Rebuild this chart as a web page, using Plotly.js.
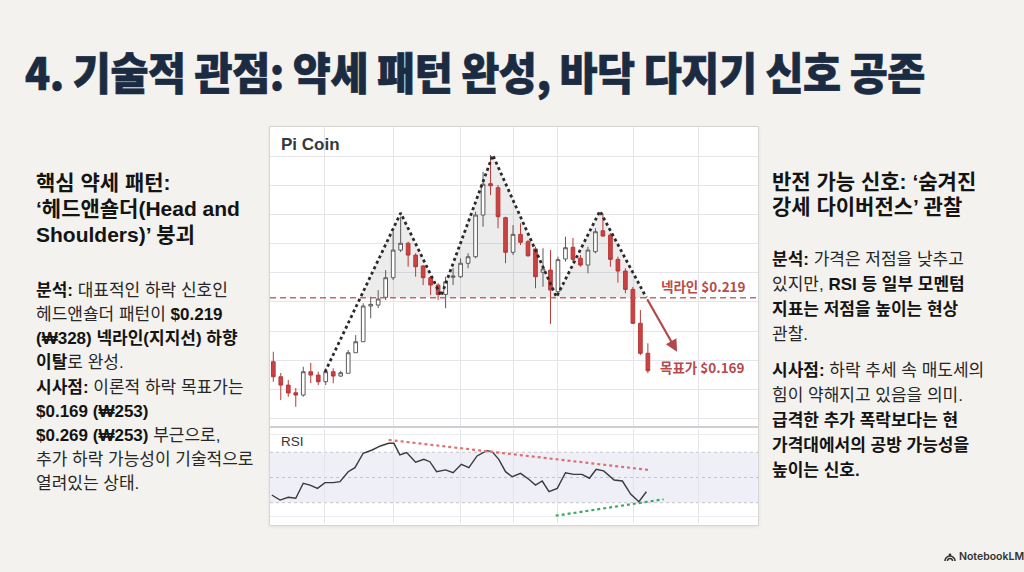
<!DOCTYPE html>
<html><head><meta charset="utf-8">
<script src="https://cdn.plot.ly/plotly-3.0.1.min.js"></script>
<style>
html,body{margin:0;padding:0;}
body{width:1024px;height:572px;background:#f3f2ee;position:relative;overflow:hidden;font-family:"Liberation Sans","Noto Sans CJK KR",sans-serif;color:#1a1a1a;}
#title{position:absolute;left:25px;top:49px;font-family:"Noto Sans CJK KR","Noto Sans",sans-serif;font-size:44px;line-height:44px;font-weight:900;color:#1b2b42;white-space:nowrap;transform-origin:left top;letter-spacing:-0.5px;-webkit-text-stroke:0.7px #1b2b42;}
.blk{position:absolute;white-space:nowrap;}
.h{font-size:21px;font-weight:700;color:#141414;}
.p{font-size:17px;font-weight:400;color:#272727;}
.p b{font-weight:700;color:#141414;}
#card{position:absolute;left:269px;top:126px;width:488px;height:398px;border:1px solid #d6d6d6;background:#fff;box-shadow:0 1px 3px rgba(0,0,0,0.07);}
#wm{position:absolute;left:944px;top:550px;font-family:"Inter","Noto Sans",sans-serif;font-size:10.5px;font-weight:600;color:#333;display:flex;align-items:center;gap:3px;}
</style>
</head><body>
<div id="title">4. 기술적 관점: 약세 패턴 완성, 바닥 다지기 신호 공존</div>

<div class="blk h" style="left:36px;top:169.7px;line-height:26px;">핵심 약세 패턴:<br>‘헤드앤숄더(Head and<br>Shoulders)’ 붕괴</div>
<div class="blk p" style="left:36px;top:278.7px;line-height:24.2px;"><b>분석:</b> 대표적인 하락 신호인<br>헤드앤숄더 패턴이 <b>$0.219</b><br><b>(₩328) 넥라인(지지선) 하향</b><br><b>이탈</b>로 완성.<br><b>시사점:</b> 이론적 하락 목표가는<br><b>$0.169 (₩253)</b><br><b>$0.269 (₩253)</b> 부근으로,<br>추가 하락 가능성이 기술적으로<br>열려있는 상태.</div>

<div class="blk h" style="left:772px;top:168.5px;line-height:25px;">반전 가능 신호: ‘숨겨진<br>강세 다이버전스’ 관찰</div>
<div class="blk p" style="left:772px;top:246.6px;line-height:25px;"><b>분석:</b> 가격은 저점을 낮추고<br>있지만, <b>RSI 등 일부 모멘텀</b><br><b>지표는 저점을 높이는 현상</b><br>관찰.</div>
<div class="blk p" style="left:772px;top:358.3px;line-height:25px;"><b>시사점:</b> 하락 추세 속 매도세의<br>힘이 약해지고 있음을 의미.<br><b>급격한 추가 폭락보다는 현</b><br><b>가격대에서의 공방 가능성을</b><br><b>높이는 신호.</b></div>

<div id="card"><div id="chart" style="width:488px;height:398px;"></div></div>

<div id="wm"><svg width="12" height="9" viewBox="0 0 12 9"><path d="M1 9 A5 5 0 0 1 11 9" fill="none" stroke="#333" stroke-width="1.6"/><path d="M3.5 9 A2.5 2.5 0 0 1 8.5 9" fill="none" stroke="#333" stroke-width="1.4"/><circle cx="6" cy="3" r="1.4" fill="#333"/></svg><span>NotebookLM</span></div>

<script>
// ---- data ----
const candleOpen  = [0.1729,0.1621,0.1561,0.1506,0.1489,0.1657,0.1633,0.1585,0.1657,0.1626,0.1646,0.1794,0.1873,0.2130,0.2137,0.2193,0.2334,0.2533,0.2582,0.2497,0.2418,0.2334,0.2281,0.2214,0.2337,0.2341,0.2438,0.2485,0.2785,0.3011,0.2982,0.2766,0.2517,0.2646,0.2593,0.2541,0.2373,0.2389,0.2233,0.2469,0.2553,0.2474,0.2425,0.2521,0.2672,0.2641,0.2466,0.2382,0.2250,0.2006,0.1790];
const candleHigh  = [0.1801,0.1648,0.1597,0.1540,0.1693,0.1720,0.1657,0.1682,0.1682,0.1664,0.1813,0.1921,0.2150,0.2197,0.2245,0.2389,0.2665,0.2773,0.2593,0.2510,0.2425,0.2346,0.2294,0.2341,0.2404,0.2474,0.2510,0.2809,0.3097,0.3217,0.3001,0.2773,0.2713,0.2726,0.2605,0.2557,0.2546,0.2533,0.2485,0.2629,0.2620,0.2497,0.2557,0.2690,0.2798,0.2654,0.2485,0.2402,0.2267,0.2101,0.1862];
const candleLow   = [0.1585,0.1453,0.1477,0.1405,0.1477,0.1576,0.1561,0.1561,0.1574,0.1621,0.1646,0.1794,0.1873,0.2042,0.2116,0.2173,0.2317,0.2519,0.2413,0.2341,0.2281,0.2209,0.2173,0.2114,0.2281,0.2332,0.2402,0.2474,0.2701,0.2929,0.2690,0.2438,0.2497,0.2569,0.2485,0.2258,0.2269,0.2001,0.2202,0.2449,0.2449,0.2413,0.2366,0.2510,0.2629,0.2413,0.2298,0.2222,0.2000,0.1777,0.1646];
const candleClose = [0.1621,0.1561,0.1504,0.1489,0.1657,0.1633,0.1585,0.1657,0.1626,0.1650,0.1794,0.1873,0.2130,0.2142,0.2181,0.2334,0.2533,0.2582,0.2497,0.2413,0.2334,0.2281,0.2214,0.2305,0.2346,0.2438,0.2485,0.2785,0.3007,0.2996,0.2773,0.2517,0.2646,0.2589,0.2492,0.2341,0.2397,0.2245,0.2464,0.2550,0.2466,0.2425,0.2533,0.2665,0.2634,0.2466,0.2382,0.2250,0.2006,0.1790,0.1664];

// head & shoulders outline (left start, L shoulder, L trough, head, R trough, R shoulder, neckline break)
const patternX = [6.9, 17.0, 22.4, 29.3, 37.8, 43.6, 49.8];
const patternY = [0.1655, 0.2800, 0.2202, 0.3217, 0.2195, 0.2814, 0.2190];
// shaded region above neckline
const shadeX = [11.6, 17.0, 22.4, 29.3, 37.8, 43.6, 49.8];
const shadeY = [0.2190, 0.2800, 0.2202, 0.3217, 0.2195, 0.2814, 0.2190];

const neckline = 0.219;
const target = 0.169;
const arrowFrom = [49.8, 0.2190];
const arrowTo   = [53.9, 0.1801];

// RSI
const rsiX = [-0.2,0.9,2.0,3.0,4.0,4.9,5.9,6.9,8.0,8.9,10.0,10.9,12.0,13.2,14.3,15.4,16.1,16.9,17.8,19.0,20.1,20.9,21.8,23.0,24.0,25.1,26.1,27.2,28.5,29.2,30.1,31.0,31.9,33.0,34.1,35.0,35.9,36.8,37.9,39.0,40.1,41.2,42.2,43.1,44.1,45.5,46.6,47.7,48.8,49.8];
const rsiVal = [36.1,32.1,34.3,33.5,45.4,44.0,41.4,45.9,45.9,46.7,54.6,57.8,69.2,71.8,75.0,77.1,77.1,67.9,69.7,62.1,64.4,62.5,54.6,56.0,53.8,60.5,57.8,67.1,71.3,70.5,64.4,54.6,50.6,53.3,48.6,44.0,47.2,38.7,41.4,53.8,52.5,52.5,49.4,56.5,55.2,48.0,47.2,36.9,30.8,38.7];
const bearDivX = [15.4, 50.1];
const bearDivY = [79.8, 56.0];
const bullDivX = [37.7, 52.1];
const bullDivY = [19.7, 32.7];
const rsiLevels = [30, 50, 70];

const labelNeck = '넥라인 $0.219';
const labelTarget = '목표가 $0.169';
const chartTitle = 'Pi Coin';
const rsiTitle = 'RSI';

// ---- chart ----
const candleIdx = candleOpen.map((_, i) => i);
const vGrid = [6.9, 16.0, 25.05, 32.0, 37.97, 48.05, 56.74];
const xr = [-0.44, 64.7];

let shadePath = 'M ' + shadeX.map((x, i) => x + ',' + shadeY[i]).join(' L ') + ' Z';

const traces = [
  {type:'candlestick', x:candleIdx, open:candleOpen, high:candleHigh, low:candleLow, close:candleClose,
   xaxis:'x', yaxis:'y', whiskerwidth:0,
   increasing:{line:{color:'#5a5a5a', width:1}, fillcolor:'#ffffff'},
   decreasing:{line:{color:'#b53939', width:1}, fillcolor:'#cc4242'}, hoverinfo:'skip'},
  {type:'scatter', mode:'lines', x:patternX, y:patternY, xaxis:'x', yaxis:'y',
   line:{color:'#2a2a2a', width:2.8, dash:'dot'}, hoverinfo:'skip'},
  {type:'scatter', mode:'lines', x:rsiX, y:rsiVal, xaxis:'x2', yaxis:'y2',
   line:{color:'#3a3a3a', width:1.4}, hoverinfo:'skip'},
  {type:'scatter', mode:'lines', x:bearDivX, y:bearDivY, xaxis:'x2', yaxis:'y2',
   line:{color:'#e07070', width:2.2, dash:'dot'}, hoverinfo:'skip'},
  {type:'scatter', mode:'lines', x:bullDivX, y:bullDivY, xaxis:'x2', yaxis:'y2',
   line:{color:'#3aa866', width:2.2, dash:'dot'}, hoverinfo:'skip'}
];

const shapes = [
  {type:'path', path:shadePath, xref:'x', yref:'y', fillcolor:'rgba(120,120,120,0.14)', line:{width:0}, layer:'between'},
  {type:'line', xref:'paper', x0:0, x1:1, yref:'y', y0:neckline, y1:neckline,
   line:{color:'rgba(185,80,80,0.85)', width:1.6, dash:'6px,4px'}, layer:'above'},
  {type:'rect', xref:'paper', x0:0, x1:1, yref:'y2', y0:rsiLevels[0], y1:rsiLevels[2],
   fillcolor:'rgba(205,205,235,0.33)', line:{width:0}, layer:'between'},
  {type:'line', xref:'paper', x0:0, x1:1, yref:'paper', y0:0.2462, y1:0.2462, line:{color:'#cfcfcf', width:2}}
];
rsiLevels.forEach(v => shapes.push({type:'line', xref:'paper', x0:0, x1:1, yref:'y2', y0:v, y1:v,
  line:{color:'#c4c4c8', width:1, dash:'3px,3px'}, layer:'between'}));

const annotations = [
  {text:'<b>'+chartTitle+'</b>', xref:'paper', yref:'paper', x:0.018, y:0.957, xanchor:'left', yanchor:'middle',
   showarrow:false, font:{family:'Liberation Sans, Noto Sans', size:17, color:'#383838'}},
  {text:rsiTitle, xref:'paper', yref:'paper', x:0.018, y:0.209, xanchor:'left', yanchor:'middle',
   showarrow:false, font:{family:'Liberation Sans, Noto Sans', size:13.5, color:'#333'}},
  {text:'<b>'+labelNeck+'</b>', xref:'x', yref:'y', x:51.5, y:neckline, yshift:12, xanchor:'left', yanchor:'middle',
   showarrow:false, font:{family:'Noto Sans CJK KR, Noto Sans', size:13.5, color:'#b84a4a'}},
  {text:'<b>'+labelTarget+'</b>', xref:'x', yref:'y', x:51.4, y:target, xanchor:'left', yanchor:'middle',
   showarrow:false, font:{family:'Noto Sans CJK KR, Noto Sans', size:13.5, color:'#b84a4a'}},
  {text:'', xref:'x', yref:'y', x:arrowTo[0], y:arrowTo[1], axref:'x', ayref:'y', ax:arrowFrom[0], ay:arrowFrom[1],
   showarrow:true, arrowhead:2, arrowsize:1.1, arrowwidth:2.2, arrowcolor:'#b5474a', standoff:0, startstandoff:0}
];

const axBase = {range:xr, tickvals:vGrid, showticklabels:false, gridcolor:'#e4e4ea', gridwidth:1, zeroline:false,
  showline:false, ticks:'', fixedrange:true};

const layout = {
  width:488, height:398, margin:{l:0, r:0, t:0, b:0},
  paper_bgcolor:'#ffffff', plot_bgcolor:'#ffffff', showlegend:false,
  xaxis:Object.assign({}, axBase, {domain:[0,1], anchor:'y', rangeslider:{visible:false}}),
  yaxis:{domain:[0.25,1], range:[0.127,0.3419], tick0:0.321, dtick:0.021, showticklabels:false,
         gridcolor:'#e4e4ea', zeroline:false, ticks:'', fixedrange:true},
  xaxis2:Object.assign({}, axBase, {domain:[0,1], anchor:'y2'}),
  yaxis2:{domain:[0.005,0.242], range:[13.9,88.7], tickvals:[18.9,83.7], showticklabels:false,
          gridcolor:'#ececf0', zeroline:false, ticks:'', fixedrange:true},
  shapes:shapes, annotations:annotations
};

Plotly.newPlot('chart', traces, layout, {staticPlot:true, displayModeBar:false});

// fit title width
const t = document.getElementById('title');
const w = t.scrollWidth;
t.style.transform = 'scaleX(' + (900 / w) + ')';
</script>
</body></html>
